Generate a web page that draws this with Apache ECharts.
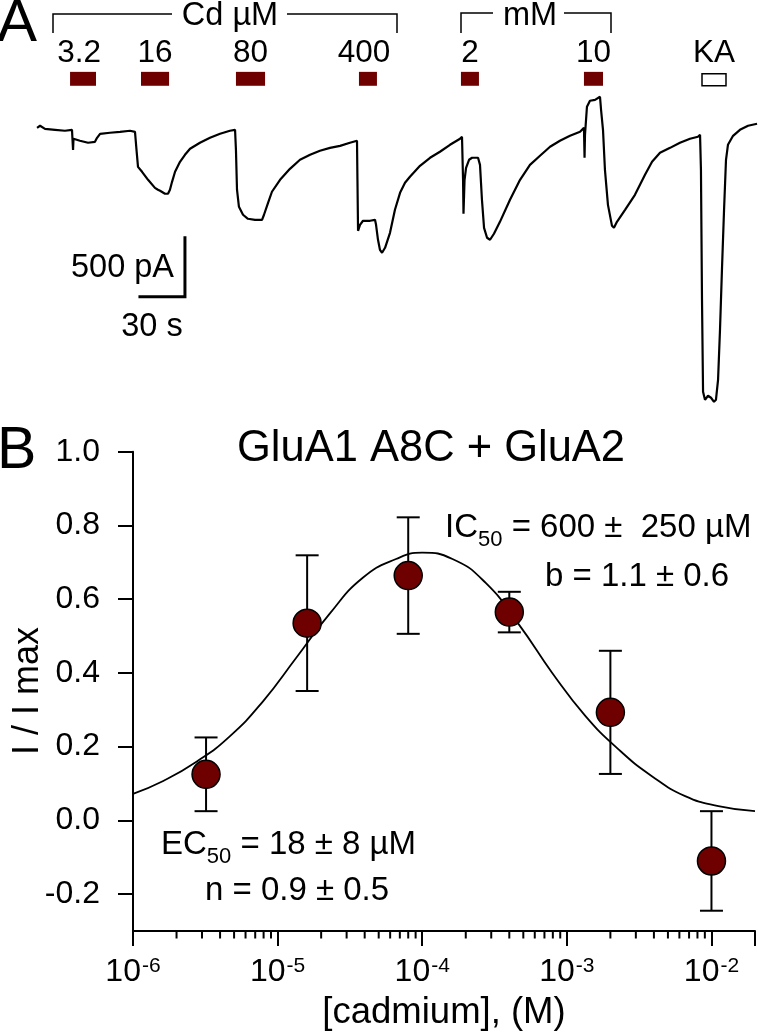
<!DOCTYPE html>
<html>
<head>
<meta charset="utf-8">
<script src="https://cdn.jsdelivr.net/npm/echarts@6/dist/echarts.min.js"></script>
<style>
html,body{margin:0;padding:0;background:#fff;}
#chart{width:758px;height:1034px;}
</style>
</head>
<body>
<div id="chart"></div>
<script>
// ---------- Panel A data (time in s, current in pA) ----------
const traceTime = [0.7,2.7,6,12.7,19.3,24,24.3,24.7,25,29.3,34.7,39.3,40.7,42.7,49.3,56,62.7,66,67,68,70.7,74.7,79.3,81.3,82.7,86,88,89.3,90.7,92.7,96,99.3,102.7,109.3,116,122.7,129.3,132.7,133.3,134,135.3,138,141.3,146,150.7,152,154.7,157.3,162.7,169.3,176,182.7,189.3,196,202.7,209.3,214,214.3,214.7,216,218,222.7,226,226.7,228,229.3,230.7,232.7,236,239.3,242.7,246,249.3,256,262.7,269.3,276,282.7,284,284.7,285,285.7,286.7,288.7,290.7,294.7,296,297.3,298.7,300.7,302.7,305.3,309.3,316,322.7,329.3,336,342.7,349.3,356,362.7,365.3,365.7,366,367.3,369.3,372.7,376,376.7,378,379.3,381.3,384,385.3,387.3,392.7,399.3,406,410.7,416,422.7,429.3,436,441.3,442.7,443.3,444,444.7,446,448,450,452,453.3,454.7,456,457.3,458.7,460,461.3,464.7,469.3,474.7,480.7];
const traceCurrent = [17,34,8,0,-8,0,-76,-170,-76,-93,-110,-102,-68,-34,-25,-17,-8,-17,-170,-314,-356,-424,-492,-508,-517,-542,-542,-508,-441,-356,-271,-212,-161,-110,-68,-34,-8,0,-170,-508,-653,-720,-754,-763,-763,-720,-619,-525,-424,-331,-254,-212,-178,-153,-136,-110,-93,-424,-856,-805,-771,-771,-763,-805,-932,-1017,-1042,-1000,-873,-678,-534,-449,-398,-305,-237,-186,-127,-76,-59,-424,-712,-424,-322,-254,-237,-237,-297,-593,-831,-915,-932,-881,-780,-593,-424,-297,-220,-144,-93,-51,-17,17,-237,-42,195,246,254,280,170,0,-339,-636,-814,-831,-780,-678,-551,-381,-271,-195,-153,-110,-76,-59,-42,-339,-1441,-2220,-2288,-2254,-2271,-2305,-2288,-2119,-1695,-1187,-678,-254,-127,-51,0,34,51];
const appLabels = ['3.2','16','80','400','2','10','KA'];
const appStart = [22.7, 70, 133.3, 215.3, 283.3, 365.3, 444];
const appEnd   = [40, 88.7, 152.7, 227.3, 295.3, 378, 460];
const scaleBarTime = 30;      // s
const scaleBarCurrent = 500;  // pA
const scaleBarCorner = [99.3, -1415];

// ---------- Panel B data ----------
const concM  = [3.2e-6, 1.6e-5, 8e-5, 4e-4, 2e-3, 1e-2];
const relI   = [0.125, 0.535, 0.664, 0.565, 0.293, -0.110];
const relErr = [0.100, 0.184, 0.158, 0.055, 0.167, 0.135];
const curveLogConc = [-6.0,-5.791,-5.561,-5.331,-5.101,-4.871,-4.641,-4.411,-4.181,-4.0,-3.791,-3.561,-3.331,-3.101,-2.871,-2.641,-2.412,-2.182,-1.952,-1.699];
const curveRelI    = [0.072,0.107,0.159,0.228,0.323,0.441,0.560,0.658,0.709,0.726,0.709,0.644,0.531,0.400,0.283,0.192,0.120,0.066,0.039,0.025];
const yTickValues = [-0.2, 0.0, 0.2, 0.4, 0.6, 0.8, 1.0];

const FONT = 'Liberation Sans, Arial, Helvetica, sans-serif';
const RED = '#6e0000';

const minorTicks = [];
for (let d = -6; d <= -2; d++) {
  for (let m = 2; m <= 9; m++) {
    const v = m * Math.pow(10, d);
    if (v <= 2.0001e-2) minorTicks.push(v);
  }
}

const chart = echarts.init(document.getElementById('chart'), null, {renderer: 'canvas'});

const option = {
  animation: false,
  backgroundColor: '#fff',
  grid: [
    {left: 36, top: 0, width: 721.5, height: 424.8},
    {left: 133, top: 451.7, width: 624.5, height: 479.3}
  ],
  xAxis: [
    {gridIndex: 0, type: 'value', min: 0, max: 481, show: false},
    {
      gridIndex: 1, type: 'log', logBase: 10, min: 1e-6, max: 2e-2,
      axisLine: {show: true, onZero: false, lineStyle: {color: '#000', width: 2}},
      axisTick: {show: true, inside: false, length: 15, lineStyle: {color: '#000', width: 2}},
      splitLine: {show: false},
      axisLabel: {
        margin: 25, color: '#000', fontFamily: FONT,
        showMinLabel: true, showMaxLabel: true,
        formatter: function (v) {
          const l = Math.log10(v);
          const e = Math.round(l);
          if (Math.abs(l - e) > 1e-6) return '';
          return '{b|10}{s|' + e + '}';
        },
        rich: {
          b: {fontSize: 32, fontFamily: FONT, color: '#000', verticalAlign: 'top'},
          s: {fontSize: 21, fontFamily: FONT, color: '#000', verticalAlign: 'top', padding: [0, 0, 0, 1]}
        }
      }
    }
  ],
  yAxis: [
    {gridIndex: 0, type: 'value', min: -2500, max: 1100, show: false},
    {
      gridIndex: 1, type: 'value', min: -0.3, max: 1.0,
      axisLine: {show: true, onZero: false, lineStyle: {color: '#000', width: 2}},
      axisTick: {show: true, inside: false, length: 15, lineStyle: {color: '#000', width: 2}, customValues: yTickValues},
      splitLine: {show: false},
      axisLabel: {
        margin: 33, color: '#000', fontSize: 32, fontFamily: FONT,
        customValues: yTickValues,
        formatter: function (v) { return v.toFixed(1); }
      }
    }
  ],
  series: [
    {
      type: 'line', xAxisIndex: 0, yAxisIndex: 0,
      data: traceTime.map((t, i) => [t, traceCurrent[i]]),
      showSymbol: false, symbol: 'none',
      lineStyle: {color: '#000', width: 2.2},
      z: 2
    },
    {
      type: 'line', xAxisIndex: 0, yAxisIndex: 0,
      data: [
        [scaleBarCorner[0] - scaleBarTime, scaleBarCorner[1]],
        [scaleBarCorner[0], scaleBarCorner[1]],
        [scaleBarCorner[0], scaleBarCorner[1] + scaleBarCurrent]
      ],
      showSymbol: false, symbol: 'none',
      lineStyle: {color: '#000', width: 3, cap: 'square', join: 'miter'},
      z: 2
    },
    {
      type: 'custom', xAxisIndex: 0, yAxisIndex: 0, clip: false,
      data: appStart.map((s, i) => [s, appEnd[i]]),
      encode: {x: [0, 1]},
      renderItem: function (params, api) {
        const i = params.dataIndex;
        const isKA = appLabels[i] === 'KA';
        const topI = isKA ? 474 : 491;
        const botI = 373;
        const p1 = api.coord([api.value(0), topI]);
        const p2 = api.coord([api.value(1), botI]);
        const labelPt = api.coord([(api.value(0) + api.value(1)) / 2, 491]);
        return {
          type: 'group',
          children: [
            {
              type: 'rect',
              shape: {x: p1[0], y: p1[1], width: p2[0] - p1[0], height: p2[1] - p1[1]},
              style: isKA ? {fill: '#fff', stroke: '#000', lineWidth: 1.5} : {fill: RED}
            },
            {
              type: 'text',
              style: {
                x: labelPt[0] - (appLabels[i] === '3.2' || appLabels[i] === '400' ? 4 : 0),
                y: labelPt[1] - 19,
                text: appLabels[i], fontSize: 31.5, fontFamily: FONT, fill: '#000',
                align: 'center', verticalAlign: 'middle'
              }
            }
          ]
        };
      },
      z: 3
    },
    // Panel B
    {
      type: 'line', xAxisIndex: 1, yAxisIndex: 1,
      data: curveLogConc.map((l, i) => [Math.pow(10, l), curveRelI[i]]),
      smooth: 0.5, showSymbol: false, symbol: 'none',
      lineStyle: {color: '#000', width: 1.8},
      z: 2
    },
    {
      type: 'custom', xAxisIndex: 1, yAxisIndex: 1,
      data: concM.map((c, i) => [c, relI[i], relErr[i]]),
      encode: {x: 0, y: 1},
      renderItem: function (params, api) {
        const x = api.value(0), y = api.value(1), e = api.value(2);
        const top = api.coord([x, y + e]);
        const bot = api.coord([x, y - e]);
        const hw = 11.5;
        const st = {stroke: '#000', lineWidth: 2};
        return {
          type: 'group',
          children: [
            {type: 'line', shape: {x1: top[0], y1: top[1], x2: bot[0], y2: bot[1]}, style: st},
            {type: 'line', shape: {x1: top[0] - hw, y1: top[1], x2: top[0] + hw, y2: top[1]}, style: st},
            {type: 'line', shape: {x1: bot[0] - hw, y1: bot[1], x2: bot[0] + hw, y2: bot[1]}, style: st}
          ]
        };
      },
      z: 3
    },
    {
      type: 'scatter', xAxisIndex: 1, yAxisIndex: 1,
      data: concM.map((c, i) => [c, relI[i]]),
      symbol: 'circle', symbolSize: 28,
      itemStyle: {color: RED, borderColor: '#000', borderWidth: 1.5, opacity: 1},
      z: 4
    },
    {
      type: 'custom', xAxisIndex: 1, yAxisIndex: 1, clip: false,
      data: minorTicks.map(v => [v, -0.3]),
      encode: {x: 0, y: 1},
      renderItem: function (params, api) {
        const p = api.coord([api.value(0), api.value(1)]);
        return {type: 'line', shape: {x1: p[0], y1: p[1], x2: p[0], y2: p[1] + 7.5}, style: {stroke: '#000', lineWidth: 2}};
      },
      z: 3
    }
  ],
  graphic: [
    // Panel letters
    {type: 'text', style: {x: -3, y: 24, text: 'A', fontSize: 60, fontFamily: FONT, fill: '#000', align: 'left', verticalAlign: 'middle'}},
    {type: 'text', style: {x: -3, y: 452, text: 'B', fontSize: 59, fontFamily: FONT, fill: '#000', align: 'left', verticalAlign: 'middle'}},
    // Brackets
    {type: 'polyline', shape: {points: [[53, 33], [53, 14], [172, 14]]}, style: {stroke: '#000', lineWidth: 1.5, fill: null}},
    {type: 'polyline', shape: {points: [[287, 14], [397, 14], [397, 33]]}, style: {stroke: '#000', lineWidth: 1.5, fill: null}},
    {type: 'text', style: {x: 230, y: 16, text: 'Cd µM', fontSize: 32.5, fontFamily: FONT, fill: '#000', align: 'center', verticalAlign: 'middle'}},
    {type: 'polyline', shape: {points: [[461, 33], [461, 13], [493, 13]]}, style: {stroke: '#000', lineWidth: 1.5, fill: null}},
    {type: 'polyline', shape: {points: [[564, 13], [611, 13], [611, 33]]}, style: {stroke: '#000', lineWidth: 1.5, fill: null}},
    {type: 'text', style: {x: 530, y: 16, text: 'mM', fontSize: 32.5, fontFamily: FONT, fill: '#000', align: 'center', verticalAlign: 'middle'}},
    // Scale bar labels
    {type: 'text', style: {x: 174, y: 268, text: '500 pA', fontSize: 32.5, fontFamily: FONT, fill: '#000', align: 'right', verticalAlign: 'middle'}},
    {type: 'text', style: {x: 152, y: 327, text: '30 s', fontSize: 32.5, fontFamily: FONT, fill: '#000', align: 'center', verticalAlign: 'middle'}},
    // Panel B title and axis names
    {type: 'text', style: {x: 431, y: 449, text: 'GluA1 A8C + GluA2', fontSize: 43.5, fontFamily: FONT, fill: '#000', align: 'center', verticalAlign: 'middle'}},
    {type: 'text', rotation: Math.PI / 2, x: 28, y: 691, style: {x: 0, y: 0, text: 'I / I max', fontSize: 36, fontFamily: FONT, fill: '#000', align: 'center', verticalAlign: 'middle'}},
    {type: 'text', style: {x: 444, y: 1013, text: '[cadmium], (M)', fontSize: 36.5, fontFamily: FONT, fill: '#000', align: 'center', verticalAlign: 'middle'}},
    // Fit annotations
    {type: 'text', style: {
      x: 445, y: 511, text: '{m|IC}{sub|50}{m| = 600 ±  250 µM}', align: 'left', verticalAlign: 'top',
      rich: {
        m: {fontSize: 33, fontFamily: FONT, fill: '#000', color: '#000', verticalAlign: 'top'},
        sub: {fontSize: 22, fontFamily: FONT, fill: '#000', color: '#000', verticalAlign: 'bottom', padding: [18, 0, 0, 0]}
      }
    }},
    {type: 'text', style: {x: 637, y: 577, text: 'b = 1.1 ± 0.6', fontSize: 33, fontFamily: FONT, fill: '#000', align: 'center', verticalAlign: 'middle'}},
    {type: 'text', style: {
      x: 161, y: 828, text: '{m|EC}{sub|50}{m| = 18 ± 8 µM}', align: 'left', verticalAlign: 'top',
      rich: {
        m: {fontSize: 33, fontFamily: FONT, fill: '#000', color: '#000', verticalAlign: 'top'},
        sub: {fontSize: 22, fontFamily: FONT, fill: '#000', color: '#000', verticalAlign: 'bottom', padding: [18, 0, 0, 0]}
      }
    }},
    {type: 'text', style: {x: 297, y: 891, text: 'n = 0.9 ± 0.5', fontSize: 33, fontFamily: FONT, fill: '#000', align: 'center', verticalAlign: 'middle'}}
  ]
};
chart.setOption(option);
</script>
</body>
</html>
